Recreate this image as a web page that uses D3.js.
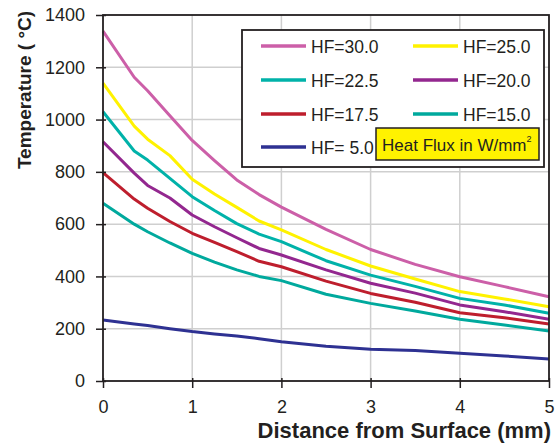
<!DOCTYPE html>
<html>
<head>
<meta charset="utf-8">
<script src="https://cdn.jsdelivr.net/npm/d3@7"></script>
<style>
  body { margin: 0; background: #fff; }
  text { font-family: "Liberation Sans", Arial, sans-serif; fill: #231f20; }
</style>
</head>
<body>
<div id="chart"></div>
<script>
const width = 560
const height = 444

// distance from surface (mm)
const distance = [0, 0.35, 0.5, 0.75, 1, 1.25, 1.5, 1.75, 2, 2.5, 3, 3.5, 4, 4.5, 5];

// temperature (°C) per heat flux
const hf300 = [1338, 1162, 1110, 1015, 920, 843, 769, 713, 665, 580, 503, 446, 399, 361, 322];
const hf250 = [1139, 975, 925, 862, 772, 715, 664, 612, 578, 503, 440, 390, 342, 314, 284];
const hf225 = [1030, 880, 845, 775, 705, 652, 602, 562, 533, 460, 405, 362, 316, 291, 259];
const hf200 = [915, 795, 748, 700, 635, 590, 548, 507, 482, 425, 374, 336, 291, 265, 236];
const hf175 = [797, 696, 661, 610, 565, 530, 495, 458, 437, 382, 335, 301, 261, 242, 218];
const hf150 = [680, 600, 571, 528, 488, 455, 425, 400, 384, 332, 297, 268, 236, 214, 191];
const hf050 = [233, 218, 212, 200, 189, 180, 172, 162, 150, 133, 121, 117, 106, 96, 84];

const seriesNames = ["HF=30.0", "HF=25.0", "HF=22.5", "HF=20.0", "HF=17.5", "HF=15.0", "HF= 5.0"];
const seriesColors = ["#cc5fa8", "#fff200", "#00b2a9", "#93278f", "#be1e2d", "#00a99d", "#2e3192"];
const seriesValues = [hf300, hf250, hf225, hf200, hf175, hf150, hf050];

const xTicks = [0, 1, 2, 3, 4, 5];
const yTicks = [0, 200, 400, 600, 800, 1000, 1200, 1400];

const plotLeft = 103, plotRight = 549, plotTop = 15, plotBottom = 381;

const svg = d3.select("#chart")
  .append("svg")
  .attr("width", width)
  .attr("height", height)

const x = d3.scaleLinear().domain([0, 5]).range([plotLeft, plotRight]);
const y = d3.scaleLinear().domain([0, 1400]).range([plotBottom, plotTop]);

// grid
svg.append("g")
  .selectAll("line")
  .data(xTicks.slice(1, -1))
  .join("line")
  .attr("x1", d => x(d)).attr("x2", d => x(d))
  .attr("y1", plotTop).attr("y2", plotBottom)
  .attr("stroke", "#cfcfcf")
  .attr("stroke-width", 1.5)
svg.append("g")
  .selectAll("line")
  .data(yTicks.slice(1, -1))
  .join("line")
  .attr("x1", plotLeft).attr("x2", plotRight)
  .attr("y1", d => y(d)).attr("y2", d => y(d))
  .attr("stroke", "#cfcfcf")
  .attr("stroke-width", 1.5)

// curves
const line = d3.line()
  .x((d, i) => x(distance[i]))
  .y(d => y(d));

svg.append("g")
  .selectAll("path")
  .data(seriesValues.map((v, i) => ({ v, c: seriesColors[i] })).reverse())
  .join("path")
  .attr("d", d => line(d.v))
  .attr("fill", "none")
  .attr("stroke", d => d.c)
  .attr("stroke-width", 3)
  .attr("stroke-linejoin", "round")

// frame
svg.append("rect")
  .attr("x", plotLeft).attr("y", plotTop)
  .attr("width", plotRight - plotLeft).attr("height", plotBottom - plotTop)
  .attr("fill", "none")
  .attr("stroke", "#231f20")
  .attr("stroke-width", 1.8)

// axes
const xAxis = d3.axisBottom(x).tickValues(xTicks).tickSize(7).tickPadding(12).tickFormat(d3.format("d"));
const yAxis = d3.axisLeft(y).tickValues(yTicks).tickSize(7).tickPadding(11).tickFormat(d3.format("d"));

const gx = svg.append("g").attr("transform", `translate(0,${plotBottom})`).call(xAxis);
const gy = svg.append("g").attr("transform", `translate(${plotLeft},0)`).call(yAxis);
[gx, gy].forEach(g => {
  g.select(".domain").remove();
  g.selectAll(".tick line").attr("stroke", "#231f20").attr("stroke-width", 1.5);
  g.selectAll(".tick text")
    .attr("font-size", 18)
    .attr("font-family", "Liberation Sans, Arial, sans-serif")
    .attr("fill", "#231f20");
});
gx.selectAll(".tick line").attr("y1", -3);
gy.selectAll(".tick line").attr("x1", 3);

svg.append("text")
  .attr("x", 551)
  .attr("y", 438)
  .attr("text-anchor", "end")
  .attr("font-size", 22)
  .attr("font-weight", "bold")
  .text("Distance from Surface (mm)")

svg.append("text")
  .attr("transform", "translate(31,90) rotate(-90)")
  .attr("text-anchor", "middle")
  .attr("font-size", 19)
  .attr("font-weight", "bold")
  .text("Temperature ( \u00B0C)")

// legend
const legend = svg.append("g").attr("class", "legend");
legend.append("rect")
  .attr("x", 242).attr("y", 30)
  .attr("width", 302).attr("height", 137)
  .attr("fill", "white")
  .attr("stroke", "#231f20")
  .attr("stroke-width", 1.8)

const rowsY = [46, 80, 114, 147];
const colsX = [261, 413];
seriesNames.forEach((name, i) => {
  const lx = colsX[i % 2], ly = rowsY[Math.floor(i / 2)];
  legend.append("line")
    .attr("x1", lx).attr("x2", lx + 45)
    .attr("y1", ly).attr("y2", ly)
    .attr("stroke", seriesColors[i])
    .attr("stroke-width", 3.5)
  legend.append("text")
    .attr("x", lx + 50)
    .attr("y", ly + 6.5)
    .attr("font-size", 17.5)
    .text(name)
});

legend.append("rect")
  .attr("x", 376).attr("y", 128)
  .attr("width", 163).attr("height", 32)
  .attr("fill", "#fff200")
  .attr("stroke", "#231f20")
  .attr("stroke-width", 1.5)
const note = legend.append("text")
  .attr("x", 382)
  .attr("y", 151)
  .attr("font-size", 17)
note.append("tspan").text("Heat Flux in W/mm")
note.append("tspan").attr("font-size", 9).attr("dy", -9).text("2")
</script>
</body>
</html>
